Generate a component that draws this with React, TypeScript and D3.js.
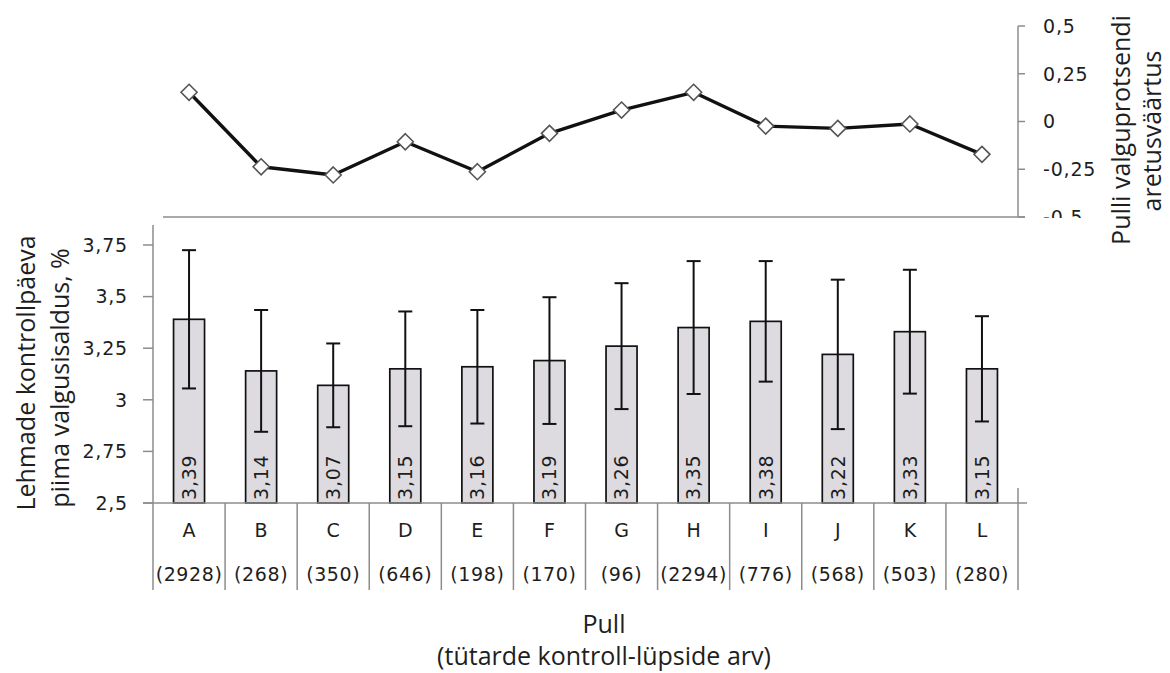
import React from "react";
import * as d3 from "d3";

const categories = ["A", "B", "C", "D", "E", "F", "G", "H", "I", "J", "K", "L"];
const counts = ["(2928)", "(268)", "(350)", "(646)", "(198)", "(170)", "(96)", "(2294)", "(776)", "(568)", "(503)", "(280)"];
const barValues = [3.39, 3.14, 3.07, 3.15, 3.16, 3.19, 3.26, 3.35, 3.38, 3.22, 3.33, 3.15];
const barErrors = [0.335, 0.295, 0.203, 0.278, 0.275, 0.307, 0.305, 0.322, 0.292, 0.362, 0.3, 0.255];
const lineValues = [0.153, -0.237, -0.28, -0.106, -0.263, -0.062, 0.06, 0.153, -0.024, -0.036, -0.013, -0.172];
const leftTicks = [2.5, 2.75, 3, 3.25, 3.5, 3.75];
const rightTicks = [-0.5, -0.25, 0, 0.25, 0.5];

const fmt = (v: number) => String(v).replace(".", ",");

export default function App() {
  const W = 1170, H = 673;
  const left = 153, right = 1018;
  const x = d3.scaleBand<string>().domain(categories).range([left, right]).paddingInner(0).paddingOuter(0);
  const yBar = d3.scaleLinear().domain([2.5, 3.75]).range([503, 245]);
  const yLine = d3.scaleLinear().domain([-0.5, 0.5]).range([217, 26]);
  const barW = 31;
  const cx = (c: string) => (x(c) as number) + x.bandwidth() / 2;
  const axisColor = "#8c8c8c";
  const textColor = "#1e1e1e";
  const tickFont = "DejaVu Sans";
  const titleFont = "Open Sans";
  const tickSize = 19;

  const line = d3.line<number>()
    .x((_, i) => cx(categories[i]))
    .y((v) => yLine(v));

  const base = yBar(2.5);

  return (
    <svg width={W} height={H} style={{ position: "absolute", left: 0, top: 0, background: "#fff" }}>
      {/* right axis */}
      <line x1={right} x2={right} y1={yLine(0.5)} y2={yLine(-0.5)} stroke={axisColor} strokeWidth={1.5} />
      {rightTicks.map((t) => (
        <g key={"rt" + t}>
          <line x1={right} x2={right + 7} y1={yLine(t)} y2={yLine(t)} stroke={axisColor} strokeWidth={1.5} />
          <text x={1043} y={yLine(t)} dy="0.36em" fontFamily={tickFont} fontSize={tickSize} letterSpacing={0.8} fill={textColor}>
            {fmt(t)}
          </text>
        </g>
      ))}
      {/* top chart horizontal base line */}
      <rect x={1030} y={yLine(-0.5) + 1} width={60} height={12} fill="#fff" />
      <line x1={163} x2={1025} y1={yLine(-0.5)} y2={yLine(-0.5)} stroke={axisColor} strokeWidth={1.5} />

      {/* bars */}
      {categories.map((c, i) => (
        <rect key={"b" + c} x={cx(c) - barW / 2} y={yBar(barValues[i])} width={barW} height={base - yBar(barValues[i])}
          fill="#dddbe0" stroke="#111" strokeWidth={1.7} />
      ))}
      {/* error bars */}
      {categories.map((c, i) => {
        const hi = yBar(barValues[i] + barErrors[i]);
        const lo = yBar(barValues[i] - barErrors[i]);
        const X = cx(c);
        return (
          <g key={"e" + c} stroke="#111" strokeWidth={2}>
            <line x1={X} x2={X} y1={hi} y2={lo} />
            <line x1={X - 7} x2={X + 7} y1={hi} y2={hi} />
            <line x1={X - 7} x2={X + 7} y1={lo} y2={lo} />
          </g>
        );
      })}
      {/* bar value labels */}
      {categories.map((c, i) => (
        <text key={"v" + c} transform={`translate(${cx(c) + 6.8},${base - 3}) rotate(-90)`} fontFamily={tickFont}
          fontSize={tickSize} letterSpacing={0.8} fill={textColor}>
          {fmt(barValues[i])}
        </text>
      ))}

      {/* left axis */}
      <line x1={left} x2={left} y1={225} y2={590} stroke={axisColor} strokeWidth={1.5} />
      {leftTicks.map((t) => (
        <g key={"lt" + t}>
          <line x1={left - 10} x2={left} y1={yBar(t)} y2={yBar(t)} stroke={axisColor} strokeWidth={1.5} />
          <text x={128} y={yBar(t)} dy="0.36em" textAnchor="end" fontFamily={tickFont} fontSize={tickSize} letterSpacing={0.8} fill={textColor}>
            {fmt(t)}
          </text>
        </g>
      ))}
      {/* bottom axis */}
      <line x1={left - 10} x2={1027} y1={base} y2={base} stroke={axisColor} strokeWidth={1.5} />
      <line x1={right} x2={right} y1={488} y2={590} stroke={axisColor} strokeWidth={1.5} />
      {categories.map((c, i) => (
        <g key={"c" + c}>
          {i > 0 && <line x1={x(c) as number} x2={x(c) as number} y1={base} y2={590} stroke={axisColor} strokeWidth={1.5} />}
          <text x={cx(c)} y={537} textAnchor="middle" fontFamily={tickFont} fontSize={tickSize} fill={textColor}>{c}</text>
          <text x={cx(c)} y={581} textAnchor="middle" fontFamily={tickFont} fontSize={tickSize} letterSpacing={0.6} fill={textColor}>{counts[i]}</text>
        </g>
      ))}

      {/* line series */}
      <path d={line(lineValues) || ""} fill="none" stroke="#111" strokeWidth={3.4} strokeLinejoin="round" />
      {lineValues.map((v, i) => {
        const X = cx(categories[i]);
        const Y = yLine(v);
        const r = 8;
        return (
          <path key={"m" + i} d={`M${X},${Y - r}L${X + r},${Y}L${X},${Y + r}L${X - r},${Y}Z`} fill="#fff" stroke="#555" strokeWidth={1.6} />
        );
      })}

      {/* titles */}
      <text transform="translate(35,373) rotate(-90)" textAnchor="middle" fontFamily={titleFont} fontSize={25} fill={textColor}>
        Lehmade kontrollpäeva
      </text>
      <text transform="translate(69,378) rotate(-90)" textAnchor="middle" fontFamily={titleFont} fontSize={25} fill={textColor}>
        piima valgusisaldus, %
      </text>
      <text transform="translate(1130,130) rotate(-90)" textAnchor="middle" fontFamily={titleFont} fontSize={25} fill={textColor}>
        Pulli valguprotsendi
      </text>
      <text transform="translate(1161,131) rotate(-90)" textAnchor="middle" fontFamily={titleFont} fontSize={25} fill={textColor}>
        aretusväärtus
      </text>
      <text x={604} y={633} textAnchor="middle" fontFamily={titleFont} fontSize={25} fill={textColor}>Pull</text>
      <text x={604} y={665} textAnchor="middle" fontFamily={titleFont} fontSize={25} fill={textColor}>(tütarde kontroll-lüpside arv)</text>
    </svg>
  );
}
